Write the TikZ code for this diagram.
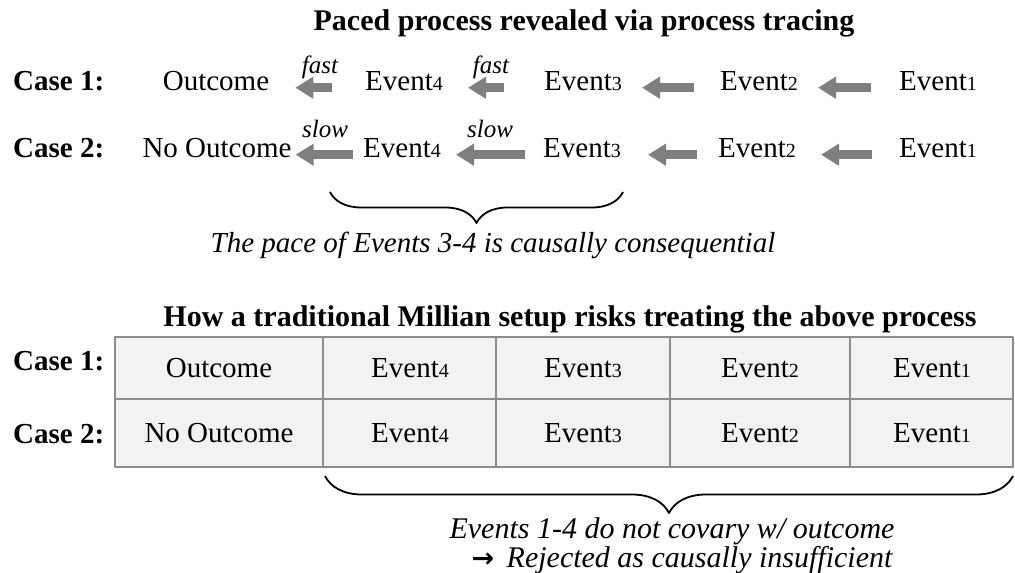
\documentclass[tikz,border=0pt]{standalone}
\usepackage{fontspec}
\setmainfont{Liberation Serif}
\newfontfamily\arrowfont{DejaVu Sans}
\usetikzlibrary{arrows.meta,decorations.pathreplacing}
\definecolor{arrowgray}{HTML}{7F7F7F}
\definecolor{gridgray}{HTML}{8C8C8C}
\definecolor{cellgray}{HTML}{F2F2F2}
\newcommand{\ev}[1]{Event{\fontsize{20}{20}\selectfont #1}}
\begin{document}
\begin{tikzpicture}[x=1pt,y=-1pt,line join=round,
	txt/.style={inner sep=0pt,font=\fontsize{29}{32}\selectfont},
	ttl/.style={inner sep=0pt,anchor=base,font=\fontsize{30}{32}\selectfont\bfseries},
	cse/.style={inner sep=0pt,anchor=base west,font=\fontsize{29}{32}\selectfont\bfseries},
	pace/.style={inner sep=0pt,anchor=base,font=\fontsize{25}{27}\selectfont\itshape},
	note/.style={inner sep=0pt,anchor=base,font=\fontsize{29}{31}\selectfont\itshape},
	flow/.style={draw=arrowgray,line width=9pt,-{Triangle[length=18pt,width=21pt]}},
	brc/.style={decorate,decoration={brace,mirror,amplitude=#1},line width=1.8pt},
	grid/.style={draw=gridgray,line width=2.5pt}]
	\useasboundingbox (0,0) rectangle (1015,573);
	\node[ttl] (t1) at (584,30) {Paced process revealed via process tracing};
	\node[ttl] (t2) at (570,326) {How a traditional Millian setup risks treating the above process};
	\foreach \n/\y/\t in {c1/90/1,c2/157/2,d1/370/1,d2/443/2}
		\node[cse] (\n) at (13,\y) {Case \t:};
	\foreach \n/\x/\t in {o/216/Outcome,e4/404/\ev4,e3/583/\ev3,e2/759/\ev2,e1/938/\ev1}
		\node[txt,anchor=base] (a\n) at (\x,90) {\t};
	\foreach \n/\x/\t in {o/217/No Outcome,e4/402/\ev4,e3/582/\ev3,e2/757/\ev2,e1/938/\ev1}
		\node[txt,anchor=base] (b\n) at (\x,157) {\t};
	\draw[flow,shorten >=26pt,shorten <=33pt] (ae4.mid west) -- (ao.mid east);
	\draw[flow,shorten >=25pt,shorten <=40pt] (ae3.mid west) -- (ae4.mid east);
	\draw[flow,shorten >=20pt,shorten <=26pt] (ae2.mid west) -- (ae3.mid east);
	\draw[flow,shorten >=20pt,shorten <=28pt] (ae1.mid west) -- (ae2.mid east);
	\draw[flow,shorten >=4pt,shorten <=10pt] (be4.mid west) -- (bo.mid east);
	\draw[flow,shorten >=15pt,shorten <=18pt] (be3.mid west) -- (be4.mid east);
	\draw[flow,shorten >=27pt,shorten <=21pt] (be2.mid west) -- (be3.mid east);
	\draw[flow,shorten >=25pt,shorten <=27pt] (be1.mid west) -- (be2.mid east);
	\foreach \n/\x/\y/\t in {f1/320/73/fast,f2/491/73/fast,s1/325/137/slow,s2/490/137/slow}
		\node[pace] (\n) at (\x,\y) {\t};
	\draw[brc=31pt] (330,192) -- (623,192);
	\node[note] (p1) at (493,252) {The pace of Events 3-4 is causally consequential};
	\draw[grid,fill=cellgray] (115,337) rectangle (1013,467);
	\draw[grid] (115,399) -- (1013,399);
	\foreach \x in {323,496,670,850}
		\draw[grid] (\x,337) -- (\x,467);
	\foreach \n/\x/\t in {o/219/Outcome,e4/410/\ev4,e3/583/\ev3,e2/760/\ev2,e1/932/\ev1}
		\node[txt] (g\n) at (\x,368) {\t};
	\foreach \n/\x/\t in {o/219/No Outcome,e4/410/\ev4,e3/583/\ev3,e2/760/\ev2,e1/932/\ev1}
		\node[txt] (h\n) at (\x,433) {\t};
	\draw[brc=37pt] (325,476) -- (1013,476);
	\node[note,font=\fontsize{30}{32}\selectfont\itshape] (n1) at (672,538) {Events 1-4 do not covary w/ outcome};
	\node[note,font=\fontsize{30}{32}\selectfont\itshape] (n2) at (682,567) {{\arrowfont\bfseries\fontsize{27}{27}\selectfont →}\, Rejected as causally insufficient};
\end{tikzpicture}
\end{document}
